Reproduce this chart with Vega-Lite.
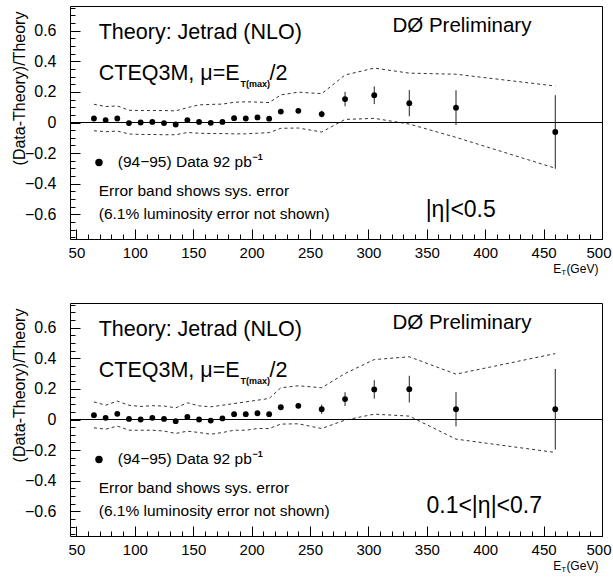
{
  "$schema": "https://vega.github.io/schema/vega-lite/v6.json",
  "padding": {"left": 10, "top": 5, "right": 0, "bottom": 0},
  "spacing": 24,
  "config": {
    "view": {"stroke": "#000", "strokeWidth": 1},
    "axis": {"labelFont": "Liberation Sans", "labelFontSize": 16, "labelColor": "#000", "tickColor": "#000", "tickWidth": 1, "domain": false, "grid": false, "titleFont": "Liberation Sans", "titleColor": "#000", "titleFontWeight": "normal"},
    "text": {"font": "Liberation Sans", "color": "#000"}
  },
  "datasets": {
    "band1": [
      {"et": 65, "up": 0.119, "lo": -0.054}, {"et": 75, "up": 0.104, "lo": -0.06}, {"et": 85, "up": 0.108, "lo": -0.056},
      {"et": 95, "up": 0.08, "lo": -0.075}, {"et": 105, "up": 0.078, "lo": -0.078}, {"et": 115, "up": 0.078, "lo": -0.078},
      {"et": 125, "up": 0.078, "lo": -0.08}, {"et": 135, "up": 0.076, "lo": -0.08}, {"et": 145, "up": 0.097, "lo": -0.065},
      {"et": 155, "up": 0.115, "lo": -0.07}, {"et": 165, "up": 0.118, "lo": -0.072}, {"et": 175, "up": 0.12, "lo": -0.072},
      {"et": 185, "up": 0.132, "lo": -0.074}, {"et": 195, "up": 0.135, "lo": -0.074}, {"et": 205, "up": 0.133, "lo": -0.07},
      {"et": 215, "up": 0.13, "lo": -0.066}, {"et": 225, "up": 0.18, "lo": -0.038}, {"et": 240, "up": 0.198, "lo": -0.036},
      {"et": 260, "up": 0.188, "lo": -0.062}, {"et": 280, "up": 0.31, "lo": 0.02}, {"et": 305, "up": 0.355, "lo": 0.027},
      {"et": 335, "up": 0.322, "lo": -0.01}, {"et": 375, "up": 0.315, "lo": -0.097}, {"et": 460, "up": 0.238, "lo": -0.298}
    ],
    "pts1": [
      {"et": 65, "v": 0.026, "err": 0.005}, {"et": 75, "v": 0.016, "err": 0.005}, {"et": 85, "v": 0.026, "err": 0.005},
      {"et": 95, "v": -0.004, "err": 0.005}, {"et": 105, "v": 0.0, "err": 0.005}, {"et": 115, "v": 0.004, "err": 0.005},
      {"et": 125, "v": -0.004, "err": 0.005}, {"et": 135, "v": -0.013, "err": 0.005}, {"et": 145, "v": 0.016, "err": 0.006},
      {"et": 155, "v": 0.004, "err": 0.006}, {"et": 165, "v": -0.002, "err": 0.006}, {"et": 175, "v": 0.004, "err": 0.007},
      {"et": 185, "v": 0.028, "err": 0.007}, {"et": 195, "v": 0.026, "err": 0.008}, {"et": 205, "v": 0.033, "err": 0.009},
      {"et": 215, "v": 0.025, "err": 0.01}, {"et": 225, "v": 0.071, "err": 0.012}, {"et": 240, "v": 0.076, "err": 0.014},
      {"et": 260, "v": 0.055, "err": 0.022}, {"et": 280, "v": 0.153, "err": 0.047}, {"et": 305, "v": 0.178, "err": 0.058},
      {"et": 335, "v": 0.126, "err": 0.085}, {"et": 375, "v": 0.097, "err": 0.113}, {"et": 460, "v": -0.062, "err": 0.24}
    ],
    "band2": [
      {"et": 65, "up": 0.115, "lo": -0.054}, {"et": 75, "up": 0.093, "lo": -0.063}, {"et": 85, "up": 0.12, "lo": -0.043},
      {"et": 95, "up": 0.093, "lo": -0.07}, {"et": 105, "up": 0.085, "lo": -0.07}, {"et": 115, "up": 0.09, "lo": -0.07},
      {"et": 125, "up": 0.088, "lo": -0.075}, {"et": 135, "up": 0.076, "lo": -0.091}, {"et": 145, "up": 0.109, "lo": -0.076},
      {"et": 155, "up": 0.089, "lo": -0.085}, {"et": 165, "up": 0.083, "lo": -0.096}, {"et": 175, "up": 0.093, "lo": -0.085},
      {"et": 185, "up": 0.104, "lo": -0.07}, {"et": 195, "up": 0.115, "lo": -0.07}, {"et": 205, "up": 0.126, "lo": -0.059},
      {"et": 215, "up": 0.137, "lo": -0.059}, {"et": 225, "up": 0.207, "lo": -0.03}, {"et": 240, "up": 0.22, "lo": -0.028},
      {"et": 260, "up": 0.207, "lo": -0.059}, {"et": 280, "up": 0.3, "lo": -0.004}, {"et": 305, "up": 0.391, "lo": 0.035},
      {"et": 335, "up": 0.409, "lo": 0.022}, {"et": 375, "up": 0.296, "lo": -0.128}, {"et": 460, "up": 0.43, "lo": -0.215}
    ],
    "pts2": [
      {"et": 65, "v": 0.028, "err": 0.005}, {"et": 75, "v": 0.011, "err": 0.005}, {"et": 85, "v": 0.037, "err": 0.005},
      {"et": 95, "v": 0.004, "err": 0.005}, {"et": 105, "v": 0.0, "err": 0.005}, {"et": 115, "v": 0.011, "err": 0.005},
      {"et": 125, "v": 0.004, "err": 0.005}, {"et": 135, "v": -0.011, "err": 0.005}, {"et": 145, "v": 0.017, "err": 0.006},
      {"et": 155, "v": 0.0, "err": 0.006}, {"et": 165, "v": -0.007, "err": 0.006}, {"et": 175, "v": 0.007, "err": 0.007},
      {"et": 185, "v": 0.035, "err": 0.007}, {"et": 195, "v": 0.035, "err": 0.008}, {"et": 205, "v": 0.041, "err": 0.009},
      {"et": 215, "v": 0.035, "err": 0.01}, {"et": 225, "v": 0.08, "err": 0.013}, {"et": 240, "v": 0.089, "err": 0.015},
      {"et": 260, "v": 0.067, "err": 0.03}, {"et": 280, "v": 0.133, "err": 0.045}, {"et": 305, "v": 0.196, "err": 0.06},
      {"et": 335, "v": 0.198, "err": 0.087}, {"et": 375, "v": 0.067, "err": 0.112}, {"et": 460, "v": 0.067, "err": 0.263}
    ]
  },
  "vconcat": [
    {
      "width": 532, "height": 233,
      "resolve": {"axis": {"x": "independent", "y": "independent"}},
      "layer": [
        {"data": {"name": "band1"}, "mark": {"type": "line", "strokeDash": [3, 3], "color": "#333", "strokeWidth": 1},
         "encoding": {
           "x": {"field": "et", "type": "quantitative", "scale": {"domain": [44.5, 500], "nice": false, "zero": false},
                 "axis": {"orient": "bottom", "values": [50,60,70,80,90,100,110,120,130,140,150,160,170,180,190,200,210,220,230,240,250,260,270,280,290,300,310,320,330,340,350,360,370,380,390,400,410,420,430,440,450,460,470,480,490,500], "tickSize": -5, "labels": false, "title": null}},
           "y": {"field": "up", "type": "quantitative", "scale": {"domain": [-0.76, 0.76], "nice": false, "zero": false},
                 "axis": {"orient": "left", "values": [-0.75,-0.7,-0.65,-0.6,-0.55,-0.5,-0.45,-0.4,-0.35,-0.3,-0.25,-0.2,-0.15,-0.1,-0.05,0,0.05,0.1,0.15,0.2,0.25,0.3,0.35,0.4,0.45,0.5,0.55,0.6,0.65,0.7,0.75], "tickSize": -5, "labels": false, "title": null}}
         }},
        {"data": {"name": "band1"}, "mark": {"type": "line", "strokeDash": [3, 3], "color": "#333", "strokeWidth": 1},
         "encoding": {"x": {"field": "et", "type": "quantitative", "axis": null}, "y": {"field": "lo", "type": "quantitative", "axis": null}}},
        {"data": {"values": [{}]}, "mark": {"type": "rule", "color": "#000", "strokeWidth": 1},
         "encoding": {"y": {"datum": 0, "type": "quantitative", "axis": null}}},
        {"data": {"name": "pts1"}, "mark": {"type": "errorbar", "color": "#222", "thickness": 1},
         "encoding": {"x": {"field": "et", "type": "quantitative", "axis": null}, "y": {"field": "v", "type": "quantitative", "axis": null}, "yError": {"field": "err"}}},
        {"data": {"name": "pts1"}, "mark": {"type": "point", "shape": "circle", "filled": true, "size": 34, "color": "#000", "opacity": 1},
         "encoding": {
           "x": {"field": "et", "type": "quantitative",
                 "axis": {"orient": "bottom", "values": [50,100,150,200,250,300,350,400,450,500], "tickSize": -10, "labelPadding": 16, "labelFontSize": 15, "format": "d", "labelFlush": 1, "labelFlushOffset": 9, "title": null}},
           "y": {"field": "v", "type": "quantitative",
                 "axis": {"orient": "left", "values": [-0.6,-0.4,-0.2,0,0.2,0.4,0.6], "tickSize": -10, "labelPadding": 24, "format": ".1~f", "title": "(Data-Theory)/Theory", "titleX": -51, "titleY": 82, "titleAngle": -90, "titleAlign": "center", "titleBaseline": "middle", "titleFontSize": 16}}
         }},
        {"data": {"values": [{"et": 69.3, "v": -0.261}]}, "mark": {"type": "point", "shape": "circle", "filled": true, "size": 55, "color": "#000", "opacity": 1},
         "encoding": {"x": {"field": "et", "type": "quantitative", "axis": null}, "y": {"field": "v", "type": "quantitative", "axis": null}}},
        {"data": {"values": [{"et": 69.1, "v": 0.543, "t": "Theory: Jetrad (NLO)"}, {"et": 69.1, "v": 0.278, "t": "CTEQ3M, μ=E"}, {"et": 215.4, "v": 0.278, "t": "/2"}]},
         "mark": {"type": "text", "align": "left", "baseline": "alphabetic", "fontSize": 21.5},
         "encoding": {"x": {"field": "et", "type": "quantitative", "axis": null}, "y": {"field": "v", "type": "quantitative", "axis": null}, "text": {"field": "t"}}},
        {"data": {"values": [{"et": 190.5, "v": 0.232, "t": "T(max)"}, {"et": 200.8, "v": -0.243, "t": "−1"}]},
         "mark": {"type": "text", "align": "left", "baseline": "alphabetic", "fontSize": 9, "fontWeight": "bold"},
         "encoding": {"x": {"field": "et", "type": "quantitative", "axis": null}, "y": {"field": "v", "type": "quantitative", "axis": null}, "text": {"field": "t"}}},
        {"data": {"values": [{"et": 320.6, "v": 0.592, "t": "DØ Preliminary"}]},
         "mark": {"type": "text", "align": "left", "baseline": "alphabetic", "fontSize": 20.5},
         "encoding": {"x": {"field": "et", "type": "quantitative", "axis": null}, "y": {"field": "v", "type": "quantitative", "axis": null}, "text": {"field": "t"}}},
        {"data": {"values": [{"et": 85.4, "v": -0.293, "t": "(94−95) Data 92 pb"}, {"et": 69.1, "v": -0.478, "t": "Error band shows sys. error"}, {"et": 69.1, "v": -0.63, "t": "(6.1% luminosity error not shown)"}]},
         "mark": {"type": "text", "align": "left", "baseline": "alphabetic", "fontSize": 15.5},
         "encoding": {"x": {"field": "et", "type": "quantitative", "axis": null}, "y": {"field": "v", "type": "quantitative", "axis": null}, "text": {"field": "t"}}},
        {"data": {"values": [{"et": 349, "v": -0.619, "t": "|η|<0.5"}]},
         "mark": {"type": "text", "align": "left", "baseline": "alphabetic", "fontSize": 23},
         "encoding": {"x": {"field": "et", "type": "quantitative", "axis": null}, "y": {"field": "v", "type": "quantitative", "axis": null}, "text": {"field": "t"}}},
        {"data": {"values": [{"et": 458.3, "v": -0.98, "t": "E"}, {"et": 469.5, "v": -0.98, "t": "(GeV)"}]},
         "mark": {"type": "text", "align": "left", "baseline": "alphabetic", "fontSize": 12},
         "encoding": {"x": {"field": "et", "type": "quantitative", "axis": null}, "y": {"field": "v", "type": "quantitative", "axis": null}, "text": {"field": "t"}}},
        {"data": {"values": [{"et": 465.2, "v": -0.995, "t": "T"}]},
         "mark": {"type": "text", "align": "left", "baseline": "alphabetic", "fontSize": 8},
         "encoding": {"x": {"field": "et", "type": "quantitative", "axis": null}, "y": {"field": "v", "type": "quantitative", "axis": null}, "text": {"field": "t"}}}
      ]
    },
    {
      "width": 532, "height": 233,
      "resolve": {"axis": {"x": "independent", "y": "independent"}},
      "layer": [
        {"data": {"name": "band2"}, "mark": {"type": "line", "strokeDash": [3, 3], "color": "#333", "strokeWidth": 1},
         "encoding": {
           "x": {"field": "et", "type": "quantitative", "scale": {"domain": [44.5, 500], "nice": false, "zero": false},
                 "axis": {"orient": "bottom", "values": [50,60,70,80,90,100,110,120,130,140,150,160,170,180,190,200,210,220,230,240,250,260,270,280,290,300,310,320,330,340,350,360,370,380,390,400,410,420,430,440,450,460,470,480,490,500], "tickSize": -5, "labels": false, "title": null}},
           "y": {"field": "up", "type": "quantitative", "scale": {"domain": [-0.76, 0.76], "nice": false, "zero": false},
                 "axis": {"orient": "left", "values": [-0.75,-0.7,-0.65,-0.6,-0.55,-0.5,-0.45,-0.4,-0.35,-0.3,-0.25,-0.2,-0.15,-0.1,-0.05,0,0.05,0.1,0.15,0.2,0.25,0.3,0.35,0.4,0.45,0.5,0.55,0.6,0.65,0.7,0.75], "tickSize": -5, "labels": false, "title": null}}
         }},
        {"data": {"name": "band2"}, "mark": {"type": "line", "strokeDash": [3, 3], "color": "#333", "strokeWidth": 1},
         "encoding": {"x": {"field": "et", "type": "quantitative", "axis": null}, "y": {"field": "lo", "type": "quantitative", "axis": null}}},
        {"data": {"values": [{}]}, "mark": {"type": "rule", "color": "#000", "strokeWidth": 1},
         "encoding": {"y": {"datum": 0, "type": "quantitative", "axis": null}}},
        {"data": {"name": "pts2"}, "mark": {"type": "errorbar", "color": "#222", "thickness": 1},
         "encoding": {"x": {"field": "et", "type": "quantitative", "axis": null}, "y": {"field": "v", "type": "quantitative", "axis": null}, "yError": {"field": "err"}}},
        {"data": {"name": "pts2"}, "mark": {"type": "point", "shape": "circle", "filled": true, "size": 34, "color": "#000", "opacity": 1},
         "encoding": {
           "x": {"field": "et", "type": "quantitative",
                 "axis": {"orient": "bottom", "values": [50,100,150,200,250,300,350,400,450,500], "tickSize": -10, "labelPadding": 16, "labelFontSize": 15, "format": "d", "labelFlush": 1, "labelFlushOffset": 9, "title": null}},
           "y": {"field": "v", "type": "quantitative",
                 "axis": {"orient": "left", "values": [-0.6,-0.4,-0.2,0,0.2,0.4,0.6], "tickSize": -10, "labelPadding": 24, "format": ".1~f", "title": "(Data-Theory)/Theory", "titleX": -51, "titleY": 82, "titleAngle": -90, "titleAlign": "center", "titleBaseline": "middle", "titleFontSize": 16}}
         }},
        {"data": {"values": [{"et": 69.3, "v": -0.261}]}, "mark": {"type": "point", "shape": "circle", "filled": true, "size": 55, "color": "#000", "opacity": 1},
         "encoding": {"x": {"field": "et", "type": "quantitative", "axis": null}, "y": {"field": "v", "type": "quantitative", "axis": null}}},
        {"data": {"values": [{"et": 69.1, "v": 0.543, "t": "Theory: Jetrad (NLO)"}, {"et": 69.1, "v": 0.278, "t": "CTEQ3M, μ=E"}, {"et": 215.4, "v": 0.278, "t": "/2"}]},
         "mark": {"type": "text", "align": "left", "baseline": "alphabetic", "fontSize": 21.5},
         "encoding": {"x": {"field": "et", "type": "quantitative", "axis": null}, "y": {"field": "v", "type": "quantitative", "axis": null}, "text": {"field": "t"}}},
        {"data": {"values": [{"et": 190.5, "v": 0.232, "t": "T(max)"}, {"et": 200.8, "v": -0.243, "t": "−1"}]},
         "mark": {"type": "text", "align": "left", "baseline": "alphabetic", "fontSize": 9, "fontWeight": "bold"},
         "encoding": {"x": {"field": "et", "type": "quantitative", "axis": null}, "y": {"field": "v", "type": "quantitative", "axis": null}, "text": {"field": "t"}}},
        {"data": {"values": [{"et": 320.6, "v": 0.592, "t": "DØ Preliminary"}]},
         "mark": {"type": "text", "align": "left", "baseline": "alphabetic", "fontSize": 20.5},
         "encoding": {"x": {"field": "et", "type": "quantitative", "axis": null}, "y": {"field": "v", "type": "quantitative", "axis": null}, "text": {"field": "t"}}},
        {"data": {"values": [{"et": 85.4, "v": -0.293, "t": "(94−95) Data 92 pb"}, {"et": 69.1, "v": -0.478, "t": "Error band shows sys. error"}, {"et": 69.1, "v": -0.63, "t": "(6.1% luminosity error not shown)"}]},
         "mark": {"type": "text", "align": "left", "baseline": "alphabetic", "fontSize": 15.5},
         "encoding": {"x": {"field": "et", "type": "quantitative", "axis": null}, "y": {"field": "v", "type": "quantitative", "axis": null}, "text": {"field": "t"}}},
        {"data": {"values": [{"et": 349.7, "v": -0.612, "t": "0.1<|η|<0.7"}]},
         "mark": {"type": "text", "align": "left", "baseline": "alphabetic", "fontSize": 23},
         "encoding": {"x": {"field": "et", "type": "quantitative", "axis": null}, "y": {"field": "v", "type": "quantitative", "axis": null}, "text": {"field": "t"}}},
        {"data": {"values": [{"et": 458.3, "v": -0.98, "t": "E"}, {"et": 469.5, "v": -0.98, "t": "(GeV)"}]},
         "mark": {"type": "text", "align": "left", "baseline": "alphabetic", "fontSize": 12},
         "encoding": {"x": {"field": "et", "type": "quantitative", "axis": null}, "y": {"field": "v", "type": "quantitative", "axis": null}, "text": {"field": "t"}}},
        {"data": {"values": [{"et": 465.2, "v": -0.995, "t": "T"}]},
         "mark": {"type": "text", "align": "left", "baseline": "alphabetic", "fontSize": 8},
         "encoding": {"x": {"field": "et", "type": "quantitative", "axis": null}, "y": {"field": "v", "type": "quantitative", "axis": null}, "text": {"field": "t"}}}
      ]
    }
  ]
}
